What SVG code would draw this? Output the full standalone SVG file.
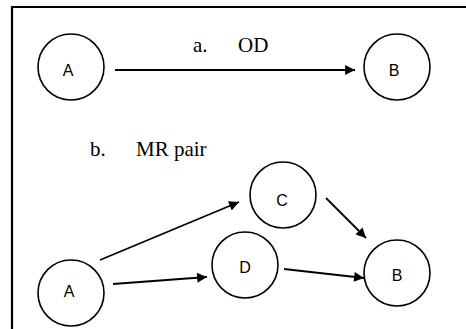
<svg xmlns="http://www.w3.org/2000/svg" width="466" height="329" viewBox="0 0 466 329">
<style>
.n{fill:#fff;stroke:#000;stroke-width:1.6}
.l{font-family:"Liberation Sans",Arial,sans-serif;font-size:16px;text-anchor:middle;fill:#000}
.t{font-family:"Liberation Serif","Times New Roman",serif;font-size:21px;fill:#000}
.e{stroke:#000;stroke-width:1.8;fill:none;marker-end:url(#ah)}
</style>
<defs>
<marker id="ah" viewBox="0 0 10 10" refX="10" refY="5" markerWidth="6" markerHeight="5.5" orient="auto" markerUnits="strokeWidth">
<path d="M0,0 L10,5 L0,10 z" fill="#000"/>
</marker>
</defs>
<rect width="466" height="329" fill="#fff"/>
<path d="M12,329 V7 H466" fill="none" stroke="#000" stroke-width="2.2"/>
<text class="t" x="193" y="52">a.</text>
<text class="t" x="238" y="52">OD</text>
<text class="t" x="90" y="156">b.</text>
<text class="t" x="136" y="156">MR pair</text>
<g id="connectors">
<line class="e" x1="115" y1="70" x2="355" y2="70"/>
<line class="e" x1="100" y1="260" x2="239" y2="202"/>
<line class="e" x1="113" y1="284" x2="207" y2="277"/>
<line class="e" x1="326" y1="198" x2="366" y2="238"/>
<line class="e" x1="284" y1="269" x2="364" y2="278"/>
</g>
<g id="nodeA1"><circle class="n" cx="71" cy="67" r="33"/><text class="l" x="68" y="76">A</text></g>
<g id="nodeB1"><circle class="n" cx="397" cy="67" r="33"/><text class="l" x="394" y="76">B</text></g>
<g id="nodeA2"><circle class="n" cx="71" cy="293" r="33"/><text class="l" x="69" y="297">A</text></g>
<g id="nodeC"><circle class="n" cx="283" cy="195" r="33"/><text class="l" x="282" y="206">C</text></g>
<g id="nodeD"><circle class="n" cx="245" cy="265" r="33"/><text class="l" x="245" y="273">D</text></g>
<g id="nodeB2"><circle class="n" cx="397" cy="273" r="33"/><text class="l" x="397" y="281">B</text></g>
</svg>
